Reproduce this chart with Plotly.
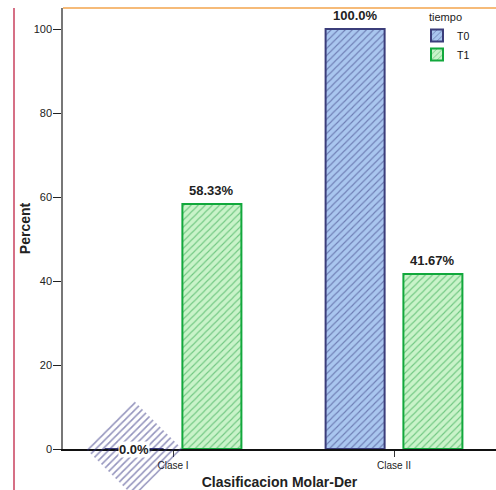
import plotly.graph_objects as go

# ---- data ----
categories = ["Clase I", "Clase II"]
series_names = ["T0", "T1"]
t0_values = [0.0, 100.0]
t1_values = [58.33, 41.67]
y_ticks = [0, 20, 40, 60, 80, 100]
legend_title = "tiempo"

# ---- geometry / style ----
W, H = 496, 490
ML, MR, MT, MB = 63, 0, 8, 0
PLOT_W = W - ML - MR
PLOT_H = H - MT - MB
AXIS_BOTTOM_PX = 449          # y pixel of the value axis baseline
Y_MAX = 105.0
X_RANGE = [-0.4977, 1.4615]
BAR_W = 0.267
OFFS = {"T0": -0.176, "T1": 0.176}
ydom0 = (H - AXIS_BOTTOM_PX) / PLOT_H

styles = {
    "T0": dict(bg="#a9c6ef", fg="#34367a", edge="#3b3d7a"),
    "T1": dict(bg="#c9f3c9", fg="#1a9c3c", edge="#12a83c"),
}
FONT = "Arial, Liberation Sans, sans-serif"


def fmt(v):
    return f"{v:.1f}%" if abs(v * 10 - round(v * 10)) < 1e-9 else f"{v:.2f}%"


def px_x(v):
    return ML + (v - X_RANGE[0]) / (X_RANGE[1] - X_RANGE[0]) * PLOT_W


def px_y(v):
    return AXIS_BOTTOM_PX - v / Y_MAX * (AXIS_BOTTOM_PX - MT)


fig = go.Figure()
series = {"T0": t0_values, "T1": t1_values}
annotations = []
for name in series_names:
    vals = series[name]
    st = styles[name]
    xs = [i + OFFS[name] for i in range(len(categories))]
    fig.add_trace(go.Bar(
        x=xs, y=vals, width=BAR_W, name=name,
        marker=dict(color=st["bg"], line=dict(color=st["edge"], width=2),
                    pattern=dict(shape="/", fgcolor=st["fg"], bgcolor=st["bg"],
                                 size=5, solidity=0.22)),
        hoverinfo="x+y",
    ))
    for x, v in zip(xs, vals):
        if v == 0:
            annotations.append(dict(x=x, y=0, xref="x", yref="y", text=f"<b>{fmt(v)}</b>",
                                    showarrow=False, bgcolor="white",
                                    font=dict(family=FONT, size=13, color="#222"),
                                    xanchor="center", yanchor="middle", borderpad=0))
            # hatched diamond behind the zero-value label (pixel overlay axes)
            cx, cy, r = px_x(x), px_y(0), 48
            fig.add_trace(go.Scatter(
                x=[cx, cx + r, cx, cx - r, cx], y=[cy - r, cy, cy + r, cy, cy - r],
                xaxis="x2", yaxis="y2", mode="lines", fill="toself",
                line=dict(width=0, color="rgba(0,0,0,0)"),
                fillcolor="rgba(0,0,0,0)",
                fillpattern=dict(shape="/", fgcolor="#2a2a7c", bgcolor="rgba(0,0,0,0)",
                                 size=5, solidity=0.32),
                showlegend=False, hoverinfo="skip",
            ))
        else:
            annotations.append(dict(x=x, y=v, xref="x", yref="y", text=f"<b>{fmt(v)}</b>",
                                    showarrow=False, yanchor="bottom", yshift=4,
                                    font=dict(family=FONT, size=13, color="#222")))

annotations.append(dict(x=(427 - ML) / PLOT_W, y=1 - (17 - MT) / PLOT_H, xref="paper", yref="paper",
                        text=legend_title, showarrow=False, xanchor="left", yanchor="middle",
                        font=dict(family=FONT, size=11, color="#222")))

fig.update_layout(
    width=W, height=H,
    margin=dict(l=ML, r=MR, t=MT, b=MB, autoexpand=False),
    paper_bgcolor="white", plot_bgcolor="rgba(0,0,0,0)",
    barmode="overlay",
    font=dict(family=FONT, size=11, color="#111"),
    xaxis=dict(range=X_RANGE, domain=[0, 1], anchor="y",
               tickmode="array", tickvals=list(range(len(categories))), ticktext=categories,
               ticks="outside", ticklen=6, tickcolor="#333", tickwidth=1,
               showline=True, linecolor="#111", linewidth=1.5,
               showgrid=False, zeroline=False,
               tickfont=dict(size=10, color="#222"),
               title=dict(text="<b>Clasificacion Molar-Der</b>", standoff=8,
                          font=dict(size=14, color="#222"))),
    yaxis=dict(range=[0, Y_MAX], domain=[ydom0, 1], anchor="x",
               tickmode="array", tickvals=y_ticks,
               ticks="outside", ticklen=8, tickcolor="#222", tickwidth=1,
               ticklabelstandoff=-1,
               showline=True, linecolor="#777", linewidth=1.5,
               showgrid=False, zeroline=False,
               tickfont=dict(size=11, color="#222"),
               title=dict(text="<b>Percent</b>", standoff=0,
                          font=dict(size=14, color="#222"))),
    xaxis2=dict(domain=[0, 1], range=[ML, W - MR], anchor="y2", visible=False, fixedrange=True),
    yaxis2=dict(domain=[0, 1], range=[H - MB, MT], anchor="x2", visible=False, fixedrange=True),
    legend=dict(x=(417 - ML) / PLOT_W, y=1 - (21 - MT) / PLOT_H, xanchor="left", yanchor="top",
                bgcolor="rgba(0,0,0,0)", font=dict(size=10.5), itemwidth=30,
                tracegroupgap=0),
    annotations=annotations,
    shapes=[
        dict(type="line", xref="paper", yref="paper", x0=(14 - ML) / PLOT_W, x1=(14 - ML) / PLOT_W,
             y0=0, y1=1, line=dict(color="#c8405e", width=1.5)),
        dict(type="line", xref="paper", yref="paper", x0=0, x1=1, y0=1, y1=1,
             line=dict(color="#f3a44c", width=1.5)),
    ],
    showlegend=True,
)

fig.write_html("out.html", config={"displayModeBar": False},
               post_script="document.body.style.margin='0';document.body.style.padding='0';")
